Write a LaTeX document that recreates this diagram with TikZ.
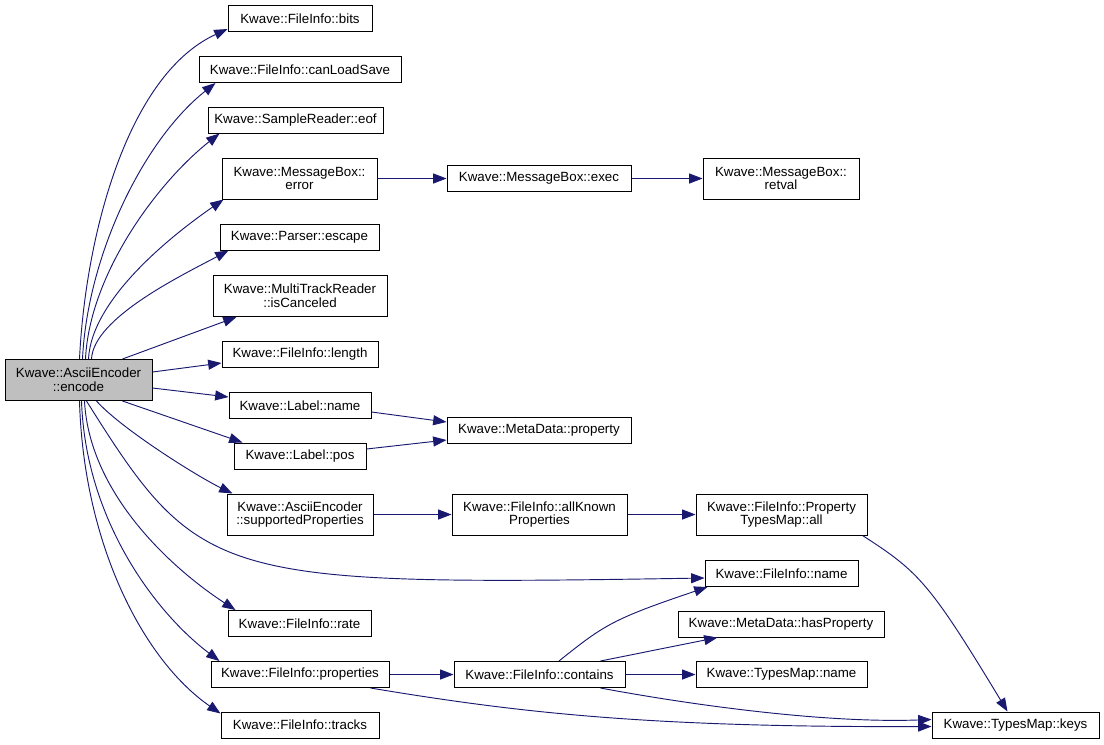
\documentclass[tikz,border=0pt]{standalone}
\usepackage{fontspec}
\setmainfont{Liberation Sans}
\usetikzlibrary{arrows.meta,calc}
\definecolor{edgec}{RGB}{25,25,112}
\definecolor{rootfill}{RGB}{191,191,191}
\newcommand\bx[5]{\node[box,minimum width=#3*0.75pt,minimum height=#4*0.75pt] (#1) at (#2) {#5};}
\begin{document}
\begin{tikzpicture}[x=0.75pt,y=0.75pt,
  box/.style={draw=black,line width=0.75pt,inner sep=1pt,align=center,
    font=\fontsize{10}{10.3}\selectfont},
  e/.style={draw=edgec,line width=0.7pt,-{Triangle[length=10pt,width=7.5pt,fill=edgec]}}]
\useasboundingbox (0,0) rectangle (1104,-744);
% nodes
\node[box,fill=rootfill,minimum width=147*0.75pt,minimum height=41*0.75pt] (encode) at (78.5,-380) {Kwave::AsciiEncoder\\::encode};
\bx{bits}{300,-18.5}{144}{26}{Kwave::FileInfo::bits}
\bx{canload}{300,-69.5}{202}{26}{Kwave::FileInfo::canLoadSave}
\bx{eof}{295.5,-120}{175}{26}{Kwave::SampleReader::eof}
\bx{error}{299.5,-178.5}{155}{41}{Kwave::MessageBox::\\error}
\bx{escape}{299.5,-237}{159}{26}{Kwave::Parser::escape}
\bx{iscanc}{300,-296}{174}{41}{Kwave::MultiTrackReader\\::isCanceled}
\bx{length}{300,-354}{156}{26}{Kwave::FileInfo::length}
\bx{exec}{539,-178.5}{184}{26}{Kwave::MessageBox::exec}
\bx{retval}{781,-178.5}{156}{41}{Kwave::MessageBox::\\retval}
\bx{lname}{300,-405.5}{142}{26}{Kwave::Label::name}
\bx{lpos}{300,-456}{132}{26}{Kwave::Label::pos}
\bx{property}{539,-430.5}{184}{26}{Kwave::MetaData::property}
\bx{supported}{300,-514.5}{146}{41}{Kwave::AsciiEncoder\\::supportedProperties}
\bx{allknown}{539.5,-514.5}{175}{41}{Kwave::FileInfo::allKnown\\Properties}
\bx{ptmall}{781.5,-514.5}{171}{41}{Kwave::FileInfo::Property\\TypesMap::all}
\bx{fname}{781.5,-573.5}{153}{26}{Kwave::FileInfo::name}
\bx{rate}{299.5,-623.5}{143}{26}{Kwave::FileInfo::rate}
\bx{properties}{300,-674.5}{178}{26}{Kwave::FileInfo::properties}
\bx{tracks}{300,-725}{158}{26}{Kwave::FileInfo::tracks}
\bx{contains}{539.5,-674.5}{171}{26}{Kwave::FileInfo::contains}
\bx{hasprop}{781,-624}{206}{26}{Kwave::MetaData::hasProperty}
\bx{tmname}{781.5,-674.5}{171}{26}{Kwave::TypesMap::name}
\bx{keys}{1015.5,-725}{167}{26}{Kwave::TypesMap::keys}
% edges from encode, upwards
\draw[e] ($(encode.north west)+(75,0)$) .. controls +(6,124) and +(-100,-46) .. ($(bits.south west)+(0,3)$);
\draw[e] ($(encode.north west)+(78,0)$) .. controls +(5,104) and +(-72,-57) .. ($(canload.south west)+(17,0)$);
\draw[e] ($(encode.north west)+(81,0)$) .. controls +(4,85) and +(-62,-49) .. ($(eof.south west)+(12,0)$);
\draw[e] ($(encode.north west)+(84,0)$) .. controls +(3,60) and +(-52,-36) .. ($(error.south west)+(2,0)$);
\draw[e] ($(encode.north west)+(87,0)$) .. controls +(2,41) and +(-47,-25) .. ($(escape.south west)+(9,0)$);
\draw[e] ($(encode.north west)+(118,0)$) -- ($(iscanc.south west)+(24,0)$);
\draw[e] ($(encode.east)+(0,8)$) -- ($(length.west)+(0,-9)$);
\draw[e] ($(encode.east)+(0,-8)$) -- ($(lname.west)+(0,8.5)$);
% edges from encode, downwards
\draw[e] ($(encode.south west)+(118,0)$) -- ($(lpos.north west)+(9,0)$);
\draw[e] ($(encode.south west)+(92,0)$) .. controls +(25,-28) and +(-35,17) .. ($(supported.north west)+(6,0)$);
\draw[e] ($(encode.south west)+(82,0)$) .. controls +(113,-180) and +(-490,-8) .. ($(fname.west)+(0,-4.5)$);
\draw[e] ($(encode.south west)+(80,0)$) .. controls +(5,-95) and +(-60,39) .. ($(rate.north west)+(8,0)$);
\draw[e] ($(encode.south west)+(77,0)$) .. controls +(4,-118) and +(-65,49) .. ($(properties.north west)+(9,0)$);
\draw[e] ($(encode.south west)+(75,0)$) .. controls +(4,-142) and +(-78,54) .. ($(tracks.north west)+(0,-2)$);
% other edges
\draw[e] (error.east) -- (exec.west);
\draw[e] (exec.east) -- (retval.west);
\draw[e] ($(lname.east)+(0,-6.5)$) -- ($(property.west)+(0,8.5)$);
\draw[e] ($(lpos.east)+(0,7)$) -- ($(property.west)+(0,-9.5)$);
\draw[e] (supported.east) -- (allknown.west);
\draw[e] (allknown.east) -- (ptmall.west);
\draw[e] ($(ptmall.south east)+(-5,0)$) .. controls +(56,-36) and +(-78,129) .. ($(keys.north west)+(76,0)$);
\draw[e] (properties.east) -- (contains.west);
\draw[e] ($(properties.south east)+(-19,0)$) .. controls +(150,-25) and +(-282,-1) .. ($(keys.west)+(0,-1.5)$);
\draw[e] ($(contains.north)+(19.5,0)$) .. controls +(45,36) and +(-95,-32) .. ($(fname.south west)+(3,0)$);
\draw[e] ($(contains.north east)+(-25,0)$) -- ($(hasprop.south west)+(40,0)$);
\draw[e] (contains.east) -- (tmname.west);
\draw[e] ($(contains.south east)+(-25,0)$) .. controls +(80,-15) and +(-112,-4) .. ($(keys.west)+(0,5.5)$);
\end{tikzpicture}
\end{document}
